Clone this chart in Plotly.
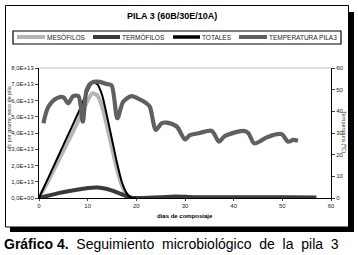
import plotly.graph_objects as go

# ---- data ----
series_names = ["MESÓFILOS", "TERMÓFILOS", "TOTALES", "TEMPERATURA PILA3"]

micro_days = [0, 2, 4, 6, 8, 10, 11, 12, 13, 14, 15, 16, 17, 18, 19, 20]
mesofilos = [0, 1.1e13, 2.3e13, 3.5e13, 4.7e13, 6.0e13, 6.45e13, 6.3e13, 5.6e13, 4.4e13,
             3.1e13, 1.8e13, 0.8e13, 0.2e13, 0.0, 0.0]
totales = [0, 1.3e13, 2.6e13, 3.9e13, 5.2e13, 6.6e13, 7.1e13, 7.0e13, 6.3e13, 5.0e13,
           3.6e13, 2.2e13, 1.0e13, 0.3e13, 0.0, 0.0]

termo_days = [0, 2, 4, 6, 8, 10, 12, 14, 16, 18, 19, 21, 25, 28, 32, 40, 50, 57]
termofilos = [0, 0.15e13, 0.3e13, 0.42e13, 0.52e13, 0.62e13, 0.65e13, 0.55e13, 0.35e13,
              0.12e13, 0.02e13, 0.0, 0.05e13, 0.1e13, 0.05e13, 0.05e13, 0.05e13, 0.03e13]

temp_days = [0.9, 1.9, 3.6, 5.0, 6.0, 7.0, 8.1, 9.0, 9.8, 10.8, 12.2, 13.9, 14.9, 16.1, 17.3,
             19.0, 20.7, 22.1, 22.8, 24.0, 25.2, 26.2, 28.3, 30.0, 31.0, 33.0, 35.5, 37.0,
             38.2, 42.0, 43.0, 44.2, 45.6, 46.8, 49.8, 51.2, 52.2, 53.2]
temperatura = [34.5, 42, 46, 46.5, 43.7, 47, 47, 35.2, 50, 53.2, 53.7, 52.6, 52, 36.8, 44.4,
               47, 45.5, 43.7, 42, 31.4, 34.5, 34.8, 33, 27, 29, 30, 31, 26,
               28.6, 31, 30, 25.2, 26.4, 28, 29.5, 26, 26.8, 26.4]

left_tickvals = [0, 1e13, 2e13, 3e13, 4e13, 5e13, 6e13, 7e13, 8e13]
left_ticktext = ["0,0E+00", "1,0E+13", "2,0E+13", "3,0E+13", "4,0E+13", "5,0E+13",
                 "6,0E+13", "7,0E+13", "8,0E+13"]
right_tickvals = [0, 10, 20, 30, 40, 50, 60]
x_tickvals = [0, 10, 20, 30, 40, 50, 60]

caption_bold = "Gráfico 4."
caption_words = ["Seguimiento", "microbiológico", "de", "la", "pila", "3"]

colors = ["#b4b4b4", "#3a3a3a", "#000000", "#606060"]
widths = [4, 4, 2, 4.2]

FONT = "Arial, Liberation Sans, sans-serif"

# plot area in pixels
PL, PR, PT, PB = 39, 331, 68, 198


def px(x):
    return (x - PL) / (PR - PL)


def py(y):
    return (PB - y) / (PB - PT)


fig = go.Figure()
fig.add_trace(go.Scatter(x=micro_days, y=mesofilos, mode="lines", name=series_names[0],
                         line=dict(color=colors[0], width=widths[0], shape="spline", smoothing=0.6)))
fig.add_trace(go.Scatter(x=termo_days, y=termofilos, mode="lines", name=series_names[1],
                         line=dict(color=colors[1], width=widths[1], shape="spline", smoothing=0.6)))
fig.add_trace(go.Scatter(x=micro_days, y=totales, mode="lines", name=series_names[2],
                         line=dict(color=colors[2], width=widths[2], shape="spline", smoothing=0.6)))
fig.add_trace(go.Scatter(x=temp_days, y=temperatura, mode="lines", name=series_names[3], yaxis="y2",
                         line=dict(color=colors[3], width=widths[3], shape="spline", smoothing=0.8)))

shapes = []
annotations = []

# outer frame with shadow
shapes.append(dict(type="rect", xref="paper", yref="paper", x0=px(349), x1=px(354), y0=py(232), y1=py(12),
                   fillcolor="black", line=dict(width=0), layer="below"))
shapes.append(dict(type="rect", xref="paper", yref="paper", x0=px(10), x1=px(354), y0=py(232), y1=py(227),
                   fillcolor="black", line=dict(width=0), layer="below"))
shapes.append(dict(type="rect", xref="paper", yref="paper", x0=px(5.5), x1=px(348.5), y0=py(227), y1=py(5.5),
                   fillcolor="white", line=dict(color="black", width=1), layer="below"))
# top gridline
shapes.append(dict(type="line", xref="paper", yref="paper", x0=0, x1=1, y0=1, y1=1,
                   line=dict(color="#bdbdbd", width=1)))

# legend box
shapes.append(dict(type="rect", xref="paper", yref="paper", x0=px(13), x1=px(341), y0=py(44), y1=py(31),
                   line=dict(color="black", width=1.2)))
leg_items = [(17, 45), (93, 120), (173, 200), (239, 267)]
for i, (a, b) in enumerate(leg_items):
    shapes.append(dict(type="line", xref="paper", yref="paper", x0=px(a), x1=px(b), y0=py(37), y1=py(37),
                       line=dict(color=colors[i], width=4 if i != 2 else 3.5)))
    annotations.append(dict(x=px(b), y=py(37.5), xref="paper", yref="paper", text=series_names[i],
                            showarrow=False, xanchor="left", yanchor="middle",
                            font=dict(family=FONT, size=6.5, color="#222")))

# title
annotations.append(dict(x=px(172), y=py(16), xref="paper", yref="paper", text="<b>PILA 3 (60B/30E/10A)</b>",
                        showarrow=False, xanchor="center", yanchor="middle",
                        font=dict(family=FONT, size=9, color="black")))
# x-axis title
annotations.append(dict(x=px(185), y=py(216), xref="paper", yref="paper", text="<b>dias de composiaje</b>",
                        showarrow=False, xanchor="center", yanchor="middle",
                        font=dict(family=FONT, size=6, color="black")))
# y-axis titles
annotations.append(dict(x=px(9), y=py(118), xref="paper", yref="paper", text="ufc por gramo seco de pila",
                        showarrow=False, textangle=-90, xanchor="center", yanchor="middle",
                        font=dict(family=FONT, size=5.5, color="#333")))
annotations.append(dict(x=px(344), y=py(132), xref="paper", yref="paper", text="Temperatura (ºC)",
                        showarrow=False, textangle=90, xanchor="center", yanchor="middle",
                        font=dict(family=FONT, size=5.5, color="#333")))
# caption (justified look: widened word gaps)
gap = "\u00a0\u00a0"
caption_text = "<b>" + caption_bold + "</b>" + gap + gap.join(caption_words)
annotations.append(dict(x=px(2), y=py(244), xref="paper", yref="paper",
                        text=caption_text,
                        showarrow=False, xanchor="left", yanchor="middle",
                        font=dict(family=FONT, size=14, color="black")))

fig.update_layout(
    width=358, height=255,
    margin=dict(l=PL, r=358 - PR, t=PT, b=255 - PB, pad=0, autoexpand=False),
    paper_bgcolor="white", plot_bgcolor="white",
    showlegend=False,
    shapes=shapes, annotations=annotations,
    xaxis=dict(range=[0, 60], tickvals=x_tickvals, showgrid=False, zeroline=False, automargin=False,
               showline=True, linecolor="black", linewidth=1, ticks="outside", ticklen=2,
               tickfont=dict(family=FONT, size=6, color="#222")),
    yaxis=dict(range=[0, 8e13], tickvals=left_tickvals, ticktext=left_ticktext, showgrid=False,
               automargin=False,
               zeroline=False, showline=True, linecolor="black", linewidth=1, ticks="outside",
               ticklen=3, tickfont=dict(family=FONT, size=6, color="#222")),
    yaxis2=dict(range=[0, 60], tickvals=right_tickvals, overlaying="y", side="right", showgrid=False,
                automargin=False,
                zeroline=False, showline=True, linecolor="black", linewidth=1, ticks="outside",
                ticklen=3, tickfont=dict(family=FONT, size=6, color="#222")),
)

fig.write_html("out.html", config={"displayModeBar": False},
               post_script="document.body.style.margin='0';document.body.style.overflow='hidden';")
